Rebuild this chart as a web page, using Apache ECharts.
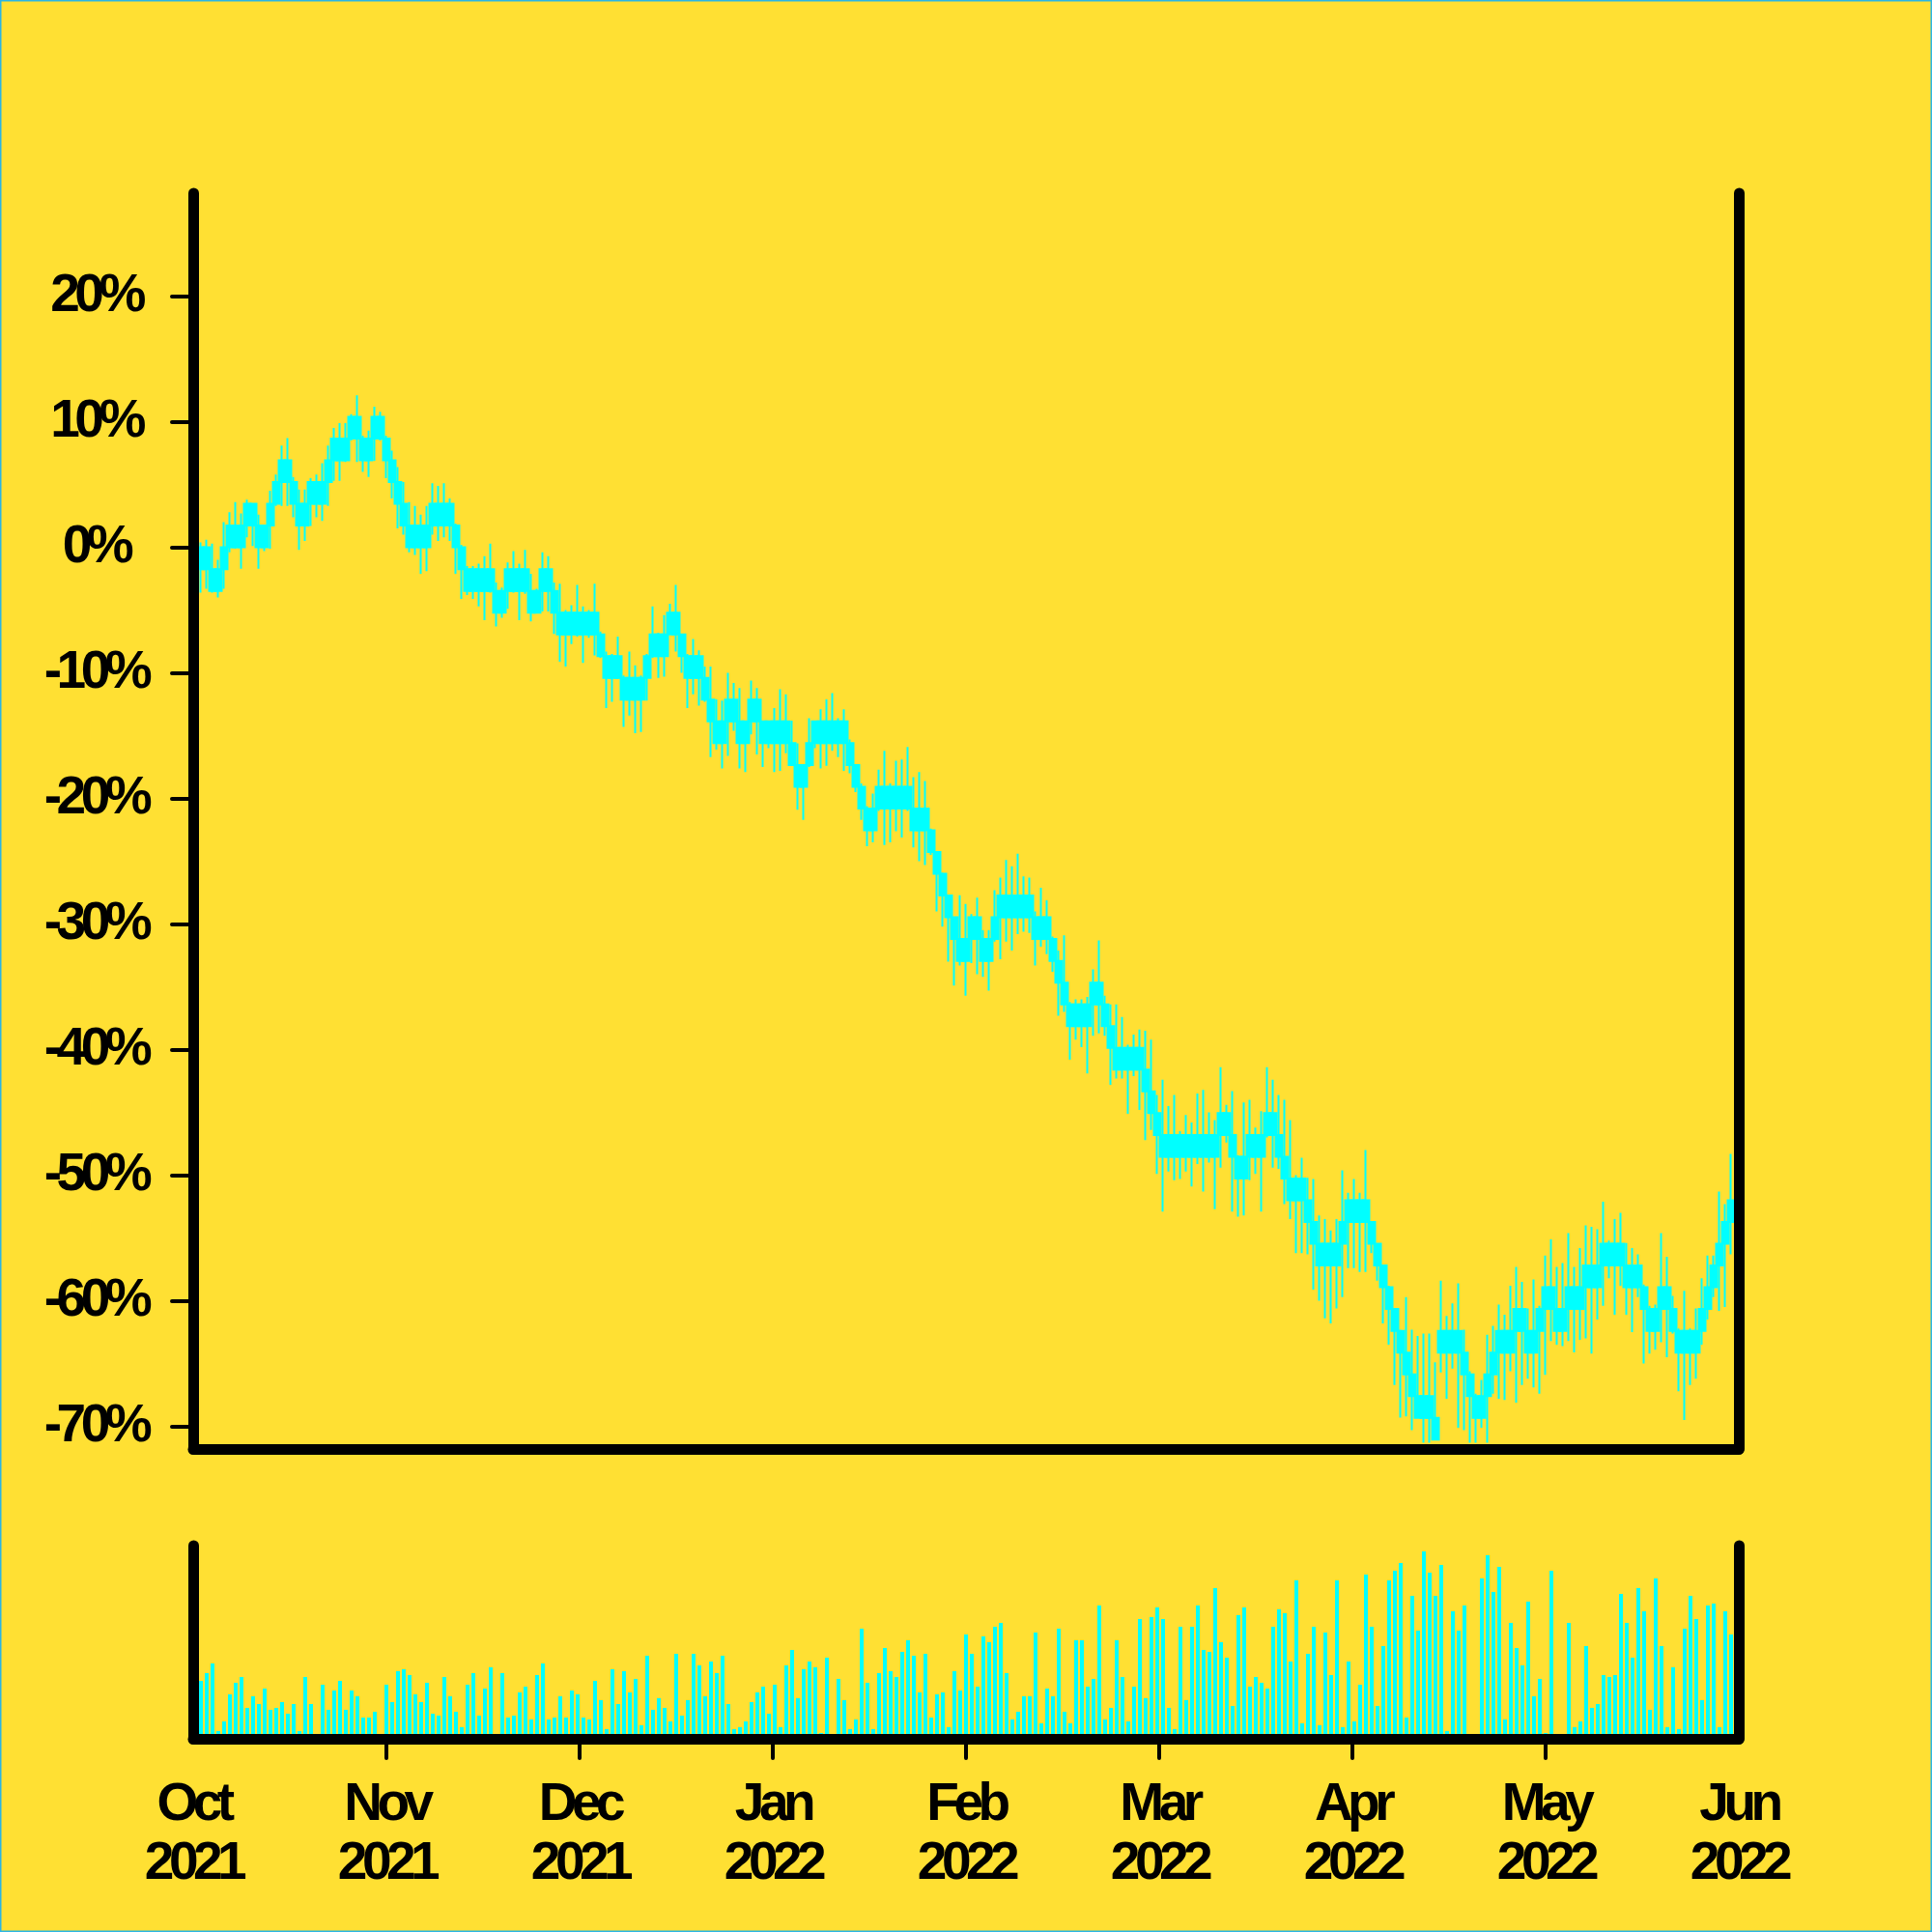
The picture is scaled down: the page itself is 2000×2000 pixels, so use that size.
<!DOCTYPE html>
<html>
<head>
<meta charset="utf-8">
<script src="https://cdn.jsdelivr.net/npm/echarts@6/dist/echarts.min.js"></script>
<style>
html,body{margin:0;padding:0;background:#FFE033;}
#main{width:2000px;height:2000px;}
</style>
</head>
<body>
<div id="main"></div>
<script>
// ---------------- data ----------------
const monthLabels = ['Oct\n2021','Nov\n2021','Dec\n2021','Jan\n2022','Feb\n2022','Mar\n2022','Apr\n2022','May\n2022','Jun\n2022'];
const yTickValues = [-70,-60,-50,-40,-30,-20,-10,0,10,20];

// price tick size expressed in percent of the starting price
const TICK_PCT = 1.733;

// upper edge of each candle body, in price ticks (body spans one tick below it)
const bodyTopTick = [
0,0,-1,-1,0,1,1,1,2,2,
1,1,2,3,4,4,3,2,2,3,
3,3,4,5,5,5,6,6,5,5,
6,6,5,4,3,2,1,1,1,1,
2,2,2,2,1,0,-1,-1,-1,-1,
-1,-2,-2,-1,-1,-1,-1,-2,-2,-1,
-1,-2,-3,-3,-3,-3,-3,-3,-3,-4,
-5,-5,-5,-6,-6,-6,-6,-5,-4,-4,
-4,-3,-3,-4,-5,-5,-5,-6,-7,-8,
-8,-7,-7,-8,-8,-7,-7,-8,-8,-8,
-8,-8,-9,-10,-10,-9,-8,-8,-8,-8,
-8,-8,-9,-10,-11,-12,-12,-11,-11,-11,
-11,-11,-11,-12,-12,-12,-13,-14,-15,-16,
-17,-18,-18,-17,-17,-18,-18,-17,-16,-16,
-16,-16,-16,-16,-17,-17,-17,-18,-19,-20,
-21,-21,-21,-21,-20,-20,-21,-22,-23,-23,
-23,-23,-23,-24,-25,-26,-27,-27,-27,-27,
-27,-27,-27,-27,-27,-27,-26,-26,-27,-28,
-28,-27,-27,-27,-26,-26,-27,-28,-29,-29,
-29,-30,-31,-32,-32,-32,-32,-31,-30,-30,
-30,-30,-31,-32,-33,-34,-35,-36,-37,-38,
-39,-39,-39,-40,-36,-36,-36,-36,-37,-38,
-39,-39,-38,-37,-36,-36,-36,-35,-35,-36,
-36,-35,-34,-34,-35,-35,-34,-34,-34,-33,
-33,-33,-32,-32,-32,-32,-33,-33,-33,-34,
-35,-35,-34,-34,-35,-36,-36,-36,-36,-35,
-34,-33,-32,-31,-30
];

const highPct = [
0.4,0.6,0.3,-1.0,2.0,2.8,3.6,2.7,3.8,3.4,
2.6,1.8,4.5,5.8,8.1,8.7,5.6,4.6,4.6,5.5,
5.8,6.7,8.1,9.5,9.9,9.9,10.6,12.1,8.9,9.3,
11.2,10.8,8.9,7.7,6.4,5.2,3.6,3.3,2.6,3.3,
5.1,4.9,5.1,3.9,1.9,0.2,-1.5,-1.5,-1.3,-0.7,
0.3,-2.8,-3.2,-1.2,-0.3,-1.3,-0.2,-2.1,-3.3,-0.4,
-0.7,-2.8,-2.9,-5.0,-4.6,-3.0,-4.7,-5.0,-2.9,-6.7,
-8.3,-8.5,-7.1,-10.2,-8.3,-9.4,-10.2,-8.5,-4.7,-6.8,
-5.4,-4.5,-3.0,-6.9,-8.5,-7.3,-8.2,-9.5,-9.5,-12.1,
-12.2,-10.0,-10.8,-11.2,-13.8,-10.6,-11.2,-13.8,-13.8,-12.8,
-11.3,-11.7,-13.8,-15.6,-17.3,-13.6,-13.8,-12.9,-12.1,-11.6,
-13.6,-12.9,-15.3,-17.3,-18.8,-20.6,-19.6,-17.7,-16.2,-18.8,
-17.0,-16.9,-15.9,-18.3,-17.9,-18.6,-22.4,-24.2,-25.9,-27.7,
-29.4,-27.7,-28.4,-29.2,-27.9,-30.5,-30.5,-27.3,-26.3,-24.9,
-25.4,-24.4,-26.2,-26.3,-29.0,-27.1,-28.1,-31.0,-32.1,-30.9,
-36.2,-36.0,-36.0,-35.8,-33.6,-31.3,-35.7,-36.4,-36.4,-37.4,
-39.6,-38.8,-38.4,-38.5,-39.2,-43.6,-42.4,-44.5,-43.6,-46.5,
-45.2,-45.8,-43.5,-43.2,-45.0,-45.6,-41.4,-44.4,-43.3,-48.4,
-44.2,-44.0,-46.2,-44.9,-41.4,-42.4,-43.6,-44.0,-45.6,-50.0,
-48.6,-50.2,-50.3,-53.2,-53.5,-54.4,-53.5,-49.6,-51.4,-50.3,
-51.4,-48.0,-53.7,-55.4,-57.2,-58.8,-60.6,-62.3,-59.7,-62.3,
-62.8,-62.6,-62.6,-64.9,-58.4,-61.2,-60.2,-58.6,-62.3,-65.6,
-67.4,-66.3,-62.7,-62.0,-60.3,-61.1,-58.8,-57.3,-58.5,-60.6,
-58.3,-60.4,-56.4,-55.1,-57.3,-57.0,-54.6,-57.3,-55.8,-54.0,
-54.1,-54.3,-52.1,-55.2,-53.5,-53.0,-55.4,-55.8,-56.3,-58.7,
-60.4,-60.3,-54.6,-56.5,-59.6,-62.2,-59.2,-62.2,-60.6,-58.2,
-56.4,-56.4,-51.3,-52.3,-48.3
];

const lowPct = [
-3.6,-3.3,-3.6,-4.0,-3.3,-0.4,-0.1,-1.7,0.8,0.1,
-1.7,-0.3,-0.1,3.3,3.3,3.3,2.4,-0.2,0.5,1.7,
2.4,2.1,3.3,5.3,5.3,6.8,8.5,6.8,6.0,5.6,
6.9,8.5,5.5,3.9,1.5,1.0,-0.4,-0.6,-2.1,-1.9,
1.0,0.5,0.8,0.5,-2.1,-4.1,-3.8,-4.1,-4.7,-5.8,
-3.6,-6.3,-5.6,-4.9,-3.6,-5.8,-3.7,-5.9,-5.2,-5.1,
-5.1,-6.9,-9.1,-9.5,-7.7,-7.1,-9.2,-7.2,-8.6,-8.8,
-12.8,-12.3,-10.5,-14.3,-13.4,-14.8,-14.7,-12.2,-8.8,-10.4,
-10.3,-7.0,-8.3,-10.0,-12.8,-11.7,-12.6,-12.3,-16.7,-16.1,
-17.6,-16.6,-14.6,-17.6,-17.9,-14.9,-16.5,-17.5,-16.0,-17.9,
-17.8,-16.4,-17.3,-20.9,-21.7,-17.5,-16.0,-17.6,-17.4,-16.2,
-16.7,-17.8,-18.0,-19.5,-21.7,-23.8,-23.5,-21.0,-23.7,-23.5,
-22.6,-23.1,-21.0,-23.9,-25.0,-25.3,-24.5,-29.0,-30.2,-33.0,
-34.9,-33.3,-35.7,-33.1,-34.0,-34.2,-35.3,-31.4,-32.8,-31.4,
-32.1,-30.8,-30.6,-30.7,-33.3,-31.8,-32.4,-33.8,-37.3,-37.0,
-40.8,-39.2,-39.8,-41.9,-38.9,-38.7,-38.9,-42.8,-42.3,-42.3,
-45.1,-42.1,-44.8,-47.2,-46.4,-49.9,-52.9,-49.7,-50.4,-50.3,
-49.7,-50.9,-49.1,-51.3,-49.0,-52.7,-49.4,-47.4,-52.9,-53.3,
-53.2,-50.4,-49.9,-52.9,-47.0,-49.4,-49.5,-52.3,-53.5,-56.2,
-56.2,-56.3,-59.1,-60.0,-61.4,-61.8,-60.6,-59.7,-57.4,-57.4,
-57.7,-57.7,-56.2,-58.4,-61.8,-63.5,-66.7,-69.3,-69.2,-70.3,
-69.4,-71.3,-71.3,-71.1,-65.7,-67.8,-65.4,-70.1,-70.3,-71.3,
-71.3,-70.1,-71.3,-67.4,-67.8,-67.9,-65.6,-68.1,-66.7,-66.2,
-66.9,-67.4,-65.9,-63.2,-63.5,-63.6,-63.2,-64.1,-63.1,-63.0,
-64.2,-61.5,-60.4,-58.2,-61.1,-58.8,-61.1,-62.5,-59.7,-65.0,
-64.2,-63.9,-63.3,-64.5,-62.6,-67.2,-69.5,-66.7,-66.2,-63.5,
-61.5,-59.7,-60.8,-60.5,-56.3
];

const volume = [
30,34,39,4,9,23,29,32,16,22,
18,26,15,16,19,13,18,4,32,18,
0,28,15,25,30,15,25,22,11,11,
14,0,28,19,35,36,33,23,19,29,
13,12,32,22,14,6,28,34,12,26,
37,0,34,11,12,24,27,10,33,39,
10,11,22,11,25,23,11,10,30,20,
5,36,18,35,24,31,7,43,15,21,
16,9,44,12,20,44,38,22,40,34,
43,18,5,6,9,19,24,27,13,28,
6,38,46,21,36,40,37,3,42,0,
31,20,5,10,57,29,5,34,47,35,
32,45,51,43,24,44,11,23,24,6,
35,25,54,44,27,53,50,58,60,34,
10,14,22,22,55,8,26,22,57,14,
8,51,51,27,31,69,10,16,51,32,
9,27,62,21,63,68,62,16,5,58,
20,58,69,46,45,78,50,42,17,64,
68,27,32,29,26,58,67,65,40,82,
8,44,58,7,55,33,82,6,40,9,
28,85,58,17,48,82,87,91,11,74,
56,97,86,74,90,4,66,56,69,0,
0,83,95,76,89,10,60,47,38,71,
22,31,3,87,0,0,60,6,9,48,
16,18,33,32,33,75,60,42,78,66,
15,83,48,6,37,5,57,74,62,20,
69,70,6,66,54
];

// ---------------- tight letter spacing for the bold labels ----------------
(function(){
  const proto = CanvasRenderingContext2D.prototype;
  if (!('letterSpacing' in proto)) return;
  const f = proto.fillText, s = proto.strokeText;
  proto.fillText = function(){ this.letterSpacing = '-5.5px'; return f.apply(this, arguments); };
  proto.strokeText = function(){ this.letterSpacing = '-5.5px'; return s.apply(this, arguments); };
})();

// ---------------- build series data ----------------
const candleData = bodyTopTick.map((t, i) => {
  const top = t * TICK_PCT, bottom = (t - 1) * TICK_PCT;
  return [i, bottom, top, Math.min(lowPct[i], bottom), Math.max(highPct[i], top)];
});
const volData = volume.map((v, i) => [i, v]);

const X_MIN = -4 / 3, X_MAX = 796 / 3;
const monthPos = monthLabels.map((_, k) => X_MIN + k * (X_MAX - X_MIN) / (monthLabels.length - 1));

const CYAN = '#00FFFF';
const BLACK = '#000000';
const font = { fontFamily: 'Liberation Sans', fontWeight: 'bold', fontSize: 55, color: BLACK };
const axisLineStyle = { show: true, onZero: false, lineStyle: { color: BLACK, width: 11, cap: 'round' } };

const chart = echarts.init(document.getElementById('main'), null, { renderer: 'canvas', width: 2000, height: 2000 });

chart.setOption({
  animation: false,
  backgroundColor: '#FFE033',
  grid: [
    { left: 200, right: 200, top: 200, bottom: 500, containLabel: false, outerBoundsMode: 'none' },
    { left: 200, right: 200, top: 1600, bottom: 200, containLabel: false, outerBoundsMode: 'none' }
  ],
  xAxis: [
    { gridIndex: 0, type: 'value', min: X_MIN, max: X_MAX, z: 10,
      axisLine: axisLineStyle, axisTick: { show: false }, axisLabel: { show: false }, splitLine: { show: false } },
    { gridIndex: 1, type: 'value', min: X_MIN, max: X_MAX, z: 10,
      axisLine: axisLineStyle,
      axisTick: { show: true, length: 20, customValues: monthPos.slice(1, -1), lineStyle: { color: BLACK, width: 4, cap: 'round' } },
      axisLabel: Object.assign({ show: true, customValues: monthPos, margin: 38, lineHeight: 61, align: 'center',
        formatter: function (v) {
          let best = 0, d = Infinity;
          monthPos.forEach((p, k) => { if (Math.abs(p - v) < d) { d = Math.abs(p - v); best = k; } });
          return monthLabels[best];
        } }, font),
      splitLine: { show: false } }
  ],
  yAxis: [
    { gridIndex: 0, type: 'value', min: -71.8, max: 28.2, position: 'left', z: 10,
      axisLine: axisLineStyle,
      axisTick: { show: true, length: 22, customValues: yTickValues, lineStyle: { color: BLACK, width: 4, cap: 'round' } },
      axisLabel: Object.assign({ show: true, customValues: yTickValues, margin: 101, align: 'center', formatter: v => v + '%' }, font),
      splitLine: { show: false } },
    { gridIndex: 0, type: 'value', min: -71.8, max: 28.2, position: 'right', z: 10,
      axisLine: axisLineStyle, axisTick: { show: false }, axisLabel: { show: false }, splitLine: { show: false } },
    { gridIndex: 1, type: 'value', min: 0, max: 100, position: 'left', z: 10,
      axisLine: axisLineStyle, axisTick: { show: false }, axisLabel: { show: false }, splitLine: { show: false } },
    { gridIndex: 1, type: 'value', min: 0, max: 100, position: 'right', z: 10,
      axisLine: axisLineStyle, axisTick: { show: false }, axisLabel: { show: false }, splitLine: { show: false } }
  ],
  series: [
    { type: 'candlestick', xAxisIndex: 0, yAxisIndex: 0, data: candleData, barWidth: 7,
      itemStyle: { color: CYAN, color0: CYAN, borderColor: CYAN, borderColor0: CYAN, borderColorDoji: CYAN, borderWidth: 2 } },
    { type: 'bar', xAxisIndex: 1, yAxisIndex: 2, data: volData, barWidth: 4,
      itemStyle: { color: CYAN } }
  ],
  graphic: [
    { type: 'rect', silent: true, z: 100, shape: { x: 0, y: 0, width: 2000, height: 2000 },
      style: { fill: 'none', stroke: '#2BB5E5', lineWidth: 3 } }
  ]
});
</script>
</body>
</html>
